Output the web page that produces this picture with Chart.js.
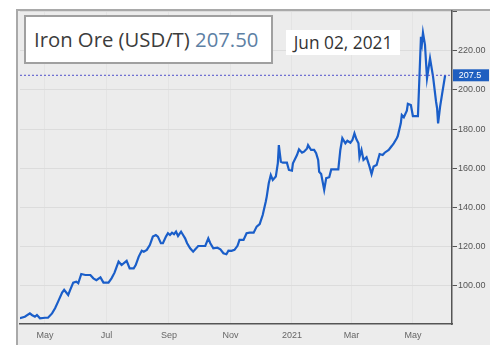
<!DOCTYPE html>
<html>
<head>
<meta charset="utf-8">
<script src="https://cdn.jsdelivr.net/npm/chart.js@4.4.0/dist/chart.umd.min.js"></script>
<style>
  body { margin: 0; background: #fff; }
  #wrap { position: relative; width: 490px; height: 345px; overflow: hidden; }
  #frame { position: absolute; left: 16px; top: 9px; width: 480px; height: 340px;
           border-left: 2px solid #a9a9a9; border-top: 2px solid #a9a9a9; background: #ececec; }
  canvas { position: absolute; left: 0; top: 0; }
  #title { position: absolute; left: 24px; top: 15px; width: 249px; height: 49px; box-sizing: border-box;
           border: 2px solid #a0a0a0; background: #fff; font-family: "Open Sans", sans-serif;
           font-size: 20.3px; color: #3c3c3c; line-height: 45px; padding-left: 8px; white-space: nowrap; }
  #title span { color: #5d80a4; }
  #date { position: absolute; left: 286px; top: 30px; width: 114px; height: 25px; background: #fff;
          font-family: "Open Sans", sans-serif; font-size: 17.3px; color: #333; line-height: 25px;
          text-align: center; white-space: nowrap; }
</style>
</head>
<body>
<div id="wrap">
  <div id="frame"></div>
  <canvas id="myChart" width="490" height="345"></canvas>
  <div id="title">Iron Ore (USD/T) <span>207.50</span></div>
  <div id="date">Jun 02, 2021</div>
</div>
<script>
// price dates and values
const dates = [
  "2020-04-06","2020-04-11","2020-04-16","2020-04-18","2020-04-21","2020-04-23","2020-04-26","2020-05-01",
  "2020-05-04","2020-05-08","2020-05-11","2020-05-14","2020-05-18","2020-05-20","2020-05-24","2020-05-26",
  "2020-05-29","2020-06-01","2020-06-03","2020-06-06","2020-06-10","2020-06-15","2020-06-18","2020-06-21",
  "2020-06-25","2020-06-28","2020-07-03","2020-07-06","2020-07-09","2020-07-13","2020-07-16","2020-07-21",
  "2020-07-24","2020-07-28","2020-07-30","2020-08-02","2020-08-05","2020-08-07","2020-08-10","2020-08-13",
  "2020-08-16","2020-08-19","2020-08-21","2020-08-24","2020-08-26","2020-08-29","2020-08-31","2020-09-02",
  "2020-09-04","2020-09-06","2020-09-08","2020-09-10","2020-09-13","2020-09-15","2020-09-17","2020-09-19",
  "2020-09-22","2020-09-25","2020-09-28","2020-09-30","2020-10-07","2020-10-10","2020-10-12","2020-10-15",
  "2020-10-19","2020-10-22","2020-10-25","2020-10-28","2020-10-30","2020-11-02","2020-11-05","2020-11-08",
  "2020-11-10","2020-11-14","2020-11-17","2020-11-20","2020-11-24","2020-11-27","2020-11-30","2020-12-03",
  "2020-12-06","2020-12-07","2020-12-09","2020-12-11","2020-12-13","2020-12-16","2020-12-18","2020-12-19",
  "2020-12-21","2020-12-23","2020-12-27","2020-12-29","2021-01-01","2021-01-02","2021-01-06","2021-01-08",
  "2021-01-11","2021-01-13","2021-01-16","2021-01-17","2021-01-20","2021-01-23","2021-01-25","2021-01-27",
  "2021-01-28","2021-01-30","2021-02-02","2021-02-04","2021-02-07","2021-02-09","2021-02-16","2021-02-18",
  "2021-02-20","2021-02-23","2021-02-25","2021-02-28","2021-03-02","2021-03-04","2021-03-06","2021-03-08",
  "2021-03-09","2021-03-11","2021-03-13","2021-03-16","2021-03-19","2021-03-21","2021-03-23","2021-03-26",
  "2021-03-29","2021-04-01","2021-04-03","2021-04-07","2021-04-10","2021-04-12","2021-04-15","2021-04-16",
  "2021-04-19","2021-04-20","2021-04-22","2021-04-25","2021-04-26","2021-04-29","2021-05-01","2021-05-06",
  "2021-05-07","2021-05-09","2021-05-10","2021-05-11","2021-05-13","2021-05-15","2021-05-18","2021-05-21",
  "2021-05-24","2021-05-25","2021-05-26","2021-05-28","2021-05-30","2021-06-02"
];
const prices = [
  83.5, 84.3, 86.0, 85.2, 84.3, 85.2, 83.5, 83.8,
  83.8, 86.0, 88.6, 92.0, 96.6, 98.0, 95.4, 98.0,
  101.7, 102.2, 101.4, 106.1, 105.6, 105.6, 103.9, 103.0,
  104.4, 101.7, 101.7, 103.9, 106.8, 112.4, 110.7, 112.8,
  109.0, 109.0, 110.7, 115.0, 118.0, 117.5, 118.4, 120.9,
  125.2, 126.0, 125.2, 121.8, 121.8, 125.2, 126.9, 126.0,
  127.2, 126.4, 127.7, 125.5, 127.7, 126.0, 124.3, 121.8,
  119.2, 117.5, 119.2, 120.4, 120.4, 124.3, 121.8, 119.2,
  119.5, 118.7, 116.7, 116.2, 118.0, 117.9, 118.4, 120.5,
  123.5, 123.5, 126.9, 127.2, 127.2, 130.3, 131.6, 136.2,
  143.0, 145.6, 152.4, 156.6, 154.1, 155.8, 162.6, 171.9,
  163.4, 162.9, 162.9, 159.2, 158.8, 162.6, 166.8, 169.7,
  168.0, 168.5, 170.2, 171.9, 169.4, 169.4, 167.7, 164.3,
  158.3, 157.1, 149.0, 155.0, 155.5, 159.5, 159.5, 169.4,
  175.4, 172.8, 174.1, 173.1, 174.5, 177.9, 174.8, 172.8,
  165.7, 169.4, 164.3, 165.7, 160.9, 157.1, 160.9, 161.7,
  167.3, 166.8, 168.0, 169.4, 171.4, 172.8, 175.4, 176.5,
  183.0, 187.2, 186.1, 189.4, 192.9, 192.3, 186.7, 186.7,
  200.0, 227.2, 223.8, 229.2, 223.0, 206.0, 216.2, 206.8,
  194.0, 190.7, 183.0, 191.5, 198.0, 207.5
];
const tickDates = ["2020-05-01","2020-07-01","2020-09-01","2020-11-01","2021-01-01","2021-03-01","2021-05-01"];
const tickLabels = ["May","Jul","Sep","Nov","2021","Mar","May"];
const yTicks = [100, 120, 140, 160, 180, 200, 220];
const lastPrice = 207.5;

// day numbers counted from 2020-05-01
const base = Date.parse("2020-05-01");
function dayNum(d) {
  return (Date.parse(d) - base) / 86400000;
}
const points = dates.map((d, i) => ({ x: dayNum(d), y: prices[i] }));
const tickDays = tickDates.map(dayNum);

const lastLine = {
  id: "lastLine",
  afterDatasetsDraw(chart) {
    const ctx = chart.ctx;
    const area = chart.chartArea;
    const y = chart.scales.y.getPixelForValue(lastPrice);
    ctx.save();
    ctx.strokeStyle = "#5050cc";
    ctx.lineWidth = 1;
    ctx.setLineDash([2, 2]);
    ctx.beginPath();
    ctx.moveTo(area.left, y);
    ctx.lineTo(area.right, y);
    ctx.stroke();
    ctx.setLineDash([]);
    ctx.fillStyle = "#1f5fc0";
    ctx.fillRect(area.right + 1, y - 6, 36, 12);
    ctx.fillStyle = "#fff";
    ctx.font = "9px 'Liberation Sans Narrow', 'Liberation Sans', sans-serif";
    ctx.textAlign = "center";
    ctx.textBaseline = "middle";
    ctx.fillText(String(lastPrice), area.right + 18, y + 0.5);
    ctx.restore();
  }
};

var myChart = new Chart(document.getElementById("myChart"), {
  type: "line",
  data: {
    datasets: [{
      data: points,
      borderColor: "#1a5ec9",
      borderWidth: 2.2,
      pointRadius: 0,
      tension: 0
    }]
  },
  options: {
    responsive: false,
    animation: false,
    layout: { padding: { left: 20, top: 11, right: 0, bottom: 0 } },
    plugins: { legend: { display: false }, tooltip: { enabled: false } },
    scales: {
      x: {
        type: "linear",
        min: -24.8,
        max: 403.8,
        afterBuildTicks: (scale) => { scale.ticks = tickDays.map((v) => ({ value: v })); },
        afterFit: (scale) => { scale.height = 21; },
        ticks: {
          autoSkip: false,
          maxRotation: 0,
          padding: 6,
          color: "#666",
          font: { family: "'Liberation Sans Narrow', 'Liberation Sans', sans-serif", size: 9 },
          callback: (v) => tickLabels[tickDays.indexOf(v)]
        },
        grid: { color: "#e4e4e4", drawTicks: false },
        border: { color: "#555", width: 1.5 }
      },
      y: {
        position: "right",
        min: 80.6,
        max: 240.3,
        afterBuildTicks: (scale) => {
          scale.ticks = yTicks.concat([240.3]).map((v) => ({ value: v }));
        },
        afterFit: (scale) => { scale.width = 38; },
        ticks: {
          autoSkip: false,
          padding: 1,
          color: "#555",
          font: { family: "'Liberation Sans Narrow', 'Liberation Sans', sans-serif", size: 9 },
          callback: (v) => (yTicks.includes(v) ? v.toFixed(2) : "")
        },
        grid: { color: "#dcdcdc", tickColor: "#555", tickLength: 5 },
        border: { color: "#555", width: 1.5 }
      }
    }
  },
  plugins: [lastLine]
});
</script>
</body>
</html>
